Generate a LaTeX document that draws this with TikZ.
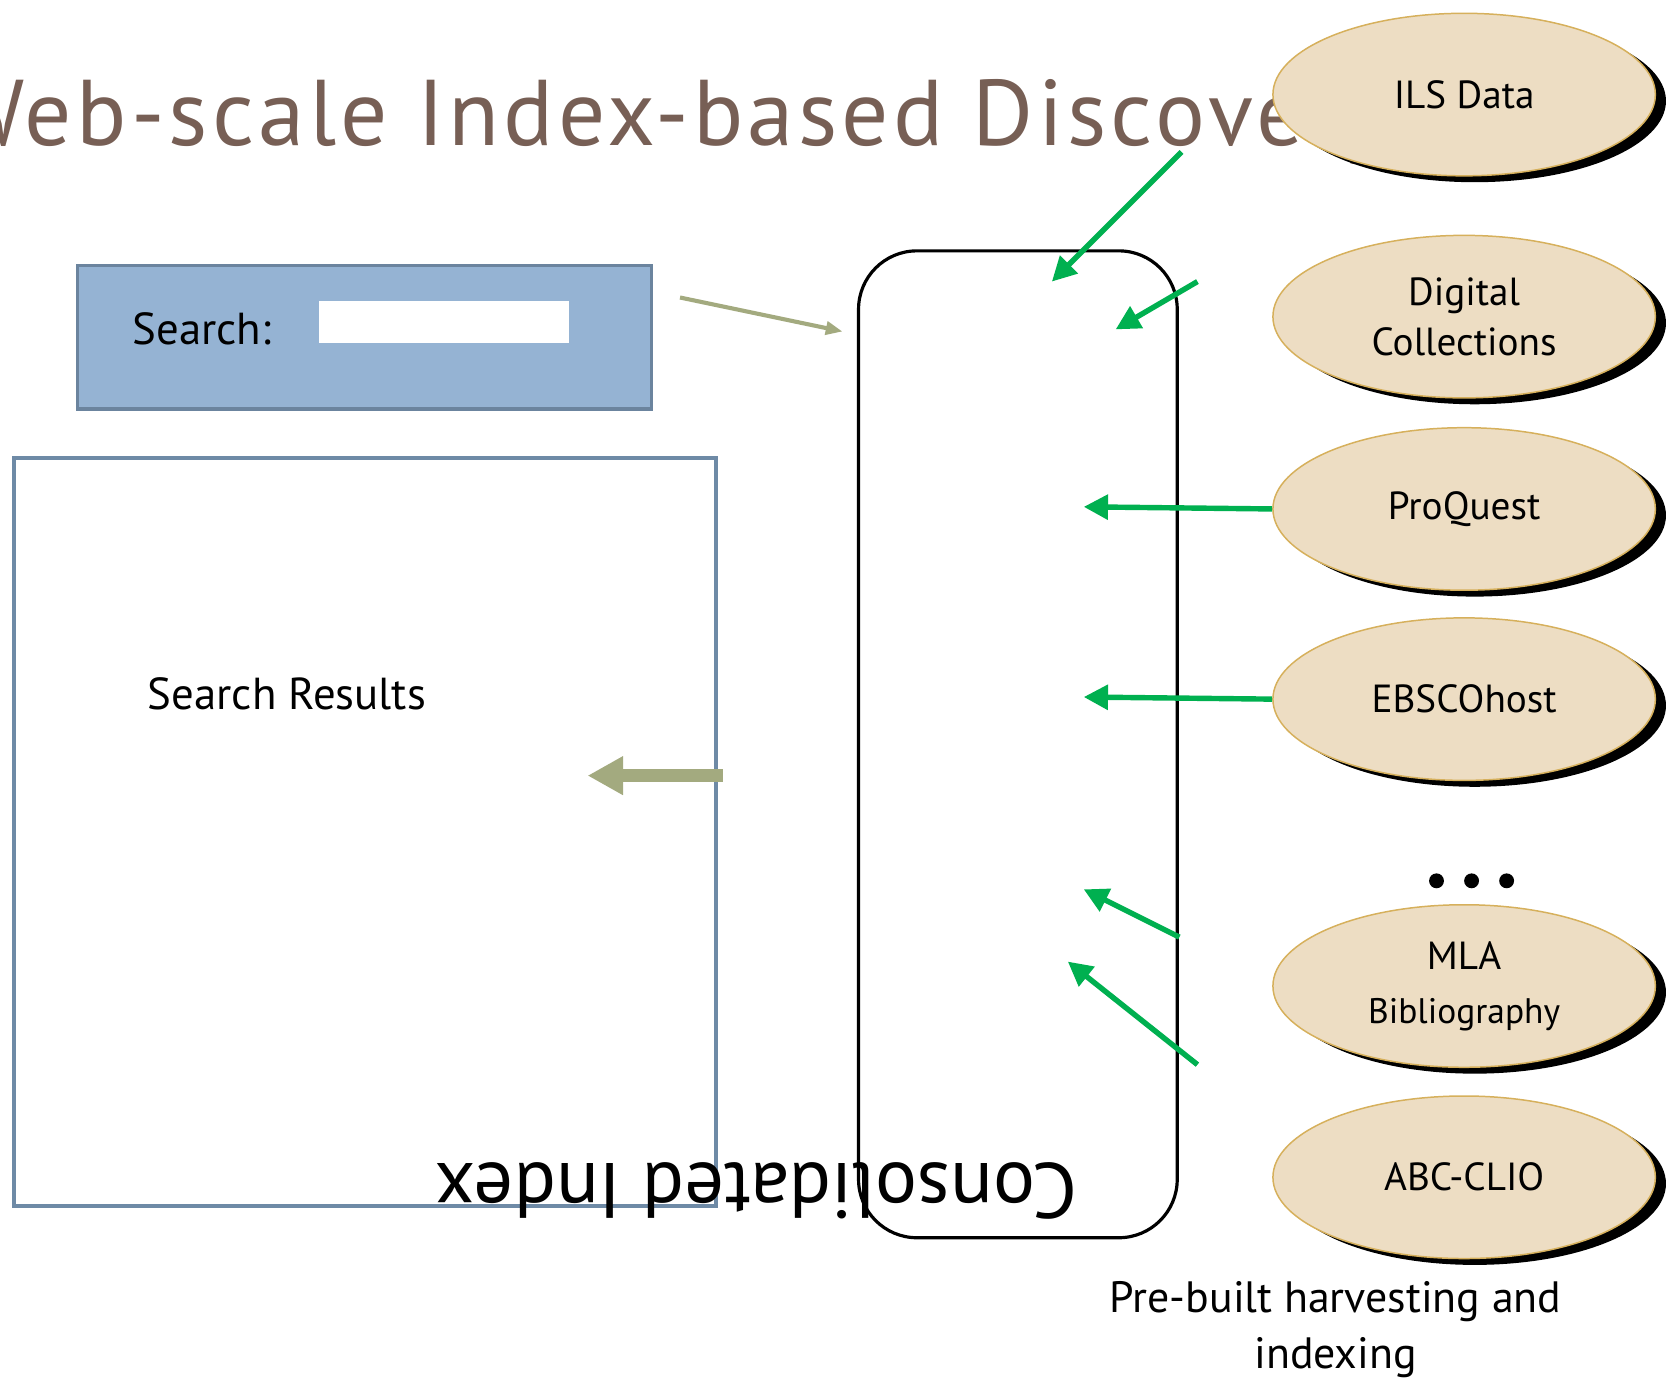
\documentclass[tikz,border=0pt]{standalone}
\usepackage{fontspec}
\setmainfont{PT Sans}
\newfontfamily\titlefont[LetterSpace=4.5]{PT Sans}
\usepackage{tikz}
\usetikzlibrary{arrows.meta,shapes.geometric,shadows}

\definecolor{titlebrown}{RGB}{119,95,85}
\definecolor{searchblue}{RGB}{149,179,211}
\definecolor{searchedge}{RGB}{107,132,158}
\definecolor{resultedge}{RGB}{110,138,166}
\definecolor{arrowolive}{RGB}{163,170,127}
\definecolor{dbtan}{RGB}{237,221,195}
\definecolor{dbedge}{RGB}{214,176,92}
\definecolor{feedgreen}{RGB}{0,176,80}

\tikzset{
    source/.style={ellipse, draw=dbedge, line width=0.8pt, fill=dbtan, minimum width=7.2cm, minimum height=3.06cm, inner sep=0pt, align=center, font=\fontsize{21}{27}\selectfont, drop shadow={shadow xshift=0.2cm, shadow yshift=-0.12cm, fill=black, opacity=1}},
    feed/.style={draw=feedgreen, line width=2.9pt, -{Triangle[length=13pt, width=13pt]}}
}

\begin{document}
\begin{tikzpicture}[x=0.02cm, y=-0.02cm]
        \useasboundingbox (0,0) rectangle (1568,1299);
        \clip (0,0) rectangle (1568,1299);

        \node[anchor=base west, inner sep=0pt, text=titlebrown, font=\titlefont\fontsize{50}{60}\selectfont] (title) at (-50,137) {Web-scale Index-based Discovery};

        \node[draw=searchedge, fill=searchblue, line width=1.7pt, minimum width=10.8cm, minimum height=2.7cm] (search) at (343,317.5) {};
        \node[font=\fontsize{24}{30}\selectfont] (searchlabel) at (190,309) {Search:};
        \node[fill=white, minimum width=4.72cm, minimum height=0.8cm] (field) at (418,303) {};

        \node[draw=resultedge, line width=1.8pt, minimum width=13.22cm, minimum height=14.08cm] (results) at (343.5,783) {};
        \node[font=\fontsize{24}{30}\selectfont] (resultslabel) at (270,653) {Search Results};

        \node[draw, rounded corners=1.1cm, line width=1.7pt, minimum width=6cm, minimum height=18.58cm] (index) at (958,700.5) {};
        \node[rotate=180, font=\fontsize{42}{50}\selectfont] (indexlabel) at (712,1121) {Consolidated Index};

        \node[source] (ils) at (1378,89) {ILS Data};
        \node[source] (digital) at (1378,298) {Digital\\Collections};
        \node[source] (proquest) at (1378,479) {ProQuest};
        \node[source] (ebsco) at (1378,658) {EBSCOhost};
        \node[source] (mla) at (1378,928) {MLA\\[2pt]\fontsize{19}{23}\selectfont Bibliography};
        \node[source] (abc) at (1378,1108) {ABC-CLIO};

        \foreach \x in {1352,1385,1418}
            \fill (\x,829) circle (7);

        \node[align=center, font=\fontsize{23.5}{30}\selectfont] (note) at (1257,1251) {Pre-built harvesting and\\indexing};

        % query and results
        \coordinate (qs) at (640,280);
        \coordinate (qe) at (793,312);
        \coordinate (rs) at (680,730);
        \coordinate (re) at (553,730);
        \draw[arrowolive, line width=2.2pt, -{Triangle[length=9pt, width=7pt]}] (qs) -- (qe);
        \draw[arrowolive, line width=6.8pt, -{Triangle[length=19pt, width=19.5pt]}] (rs) -- (re);

        % harvesting feeds
        \coordinate (f1s) at (1112,143);
        \coordinate (f1e) at (990,265);
        \coordinate (f2s) at (1127,265);
        \coordinate (f2e) at (1050,310);
        \coordinate (f3e) at (1020,477);
        \coordinate (f4e) at (1020,656);
        \coordinate (f5s) at (1110,882);
        \coordinate (f5e) at (1020,837);
        \coordinate (f6s) at (1127,1002);
        \coordinate (f6e) at (1005,905);
        \draw[feed] (f1s) -- (f1e);
        \draw[feed] (f2s) -- (f2e);
        \draw[feed] (proquest.west) -- (f3e);
        \draw[feed] (ebsco.west) -- (f4e);
        \draw[feed] (f5s) -- (f5e);
        \draw[feed] (f6s) -- (f6e);
\end{tikzpicture}
\end{document}
